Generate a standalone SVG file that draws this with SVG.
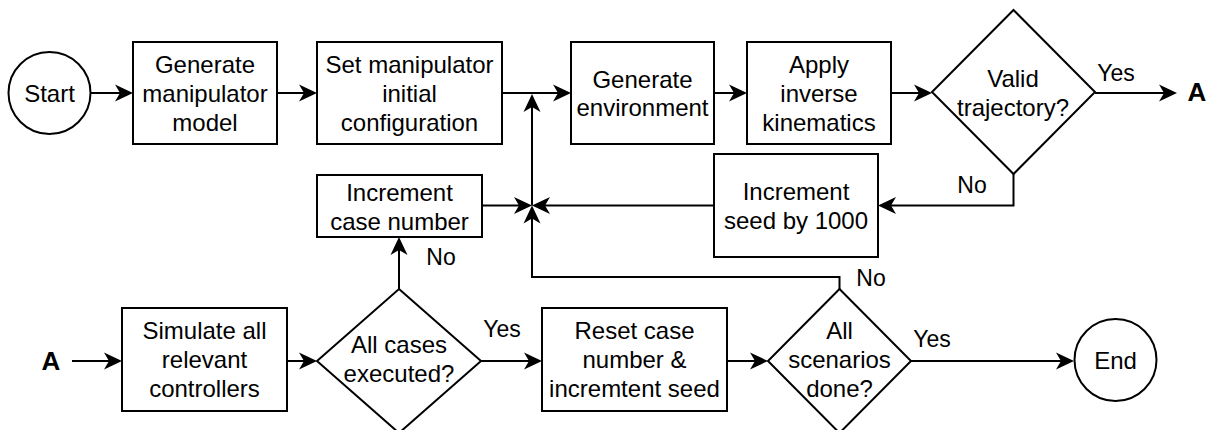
<svg xmlns="http://www.w3.org/2000/svg" width="1211" height="430" viewBox="0 0 1211 430">
<style>
.n{fill:#fff;stroke:#000;stroke-width:2}
.t{font-family:"Liberation Sans",Arial,sans-serif;font-size:24px;fill:#000;text-anchor:middle}
.l{font-family:"Liberation Sans",Arial,sans-serif;font-size:23px;fill:#000;text-anchor:middle}
.b{font-family:"Liberation Sans",Arial,sans-serif;font-size:26px;font-weight:bold;fill:#000;text-anchor:middle}
.c{fill:none;stroke:#000;stroke-width:2;marker-end:url(#arr)}
</style>
<defs>
<marker id="arr" viewBox="-20 -10 22 20" refX="-10" refY="0" markerWidth="22" markerHeight="20" markerUnits="userSpaceOnUse" orient="auto">
<path d="M0,0 L-18,-8.5 L-13,0 L-18,8.5 Z" fill="#000"/>
</marker>
</defs>
<rect width="1211" height="430" fill="#fff"/>
<g id="connectors">
<path class="c" d="M90,93 H123"/>
<path class="c" d="M277,93 H307"/>
<path class="c" d="M502,93 H561"/>
<path class="c" d="M714,93 H737"/>
<path class="c" d="M891,93 H922"/>
<path class="c" d="M1095,93 H1167"/>
<path class="c" d="M1013.5,174 V205.5 H888"/>
<path class="c" d="M714,205.5 H542"/>
<path class="c" d="M482,205.5 H522"/>
<path class="c" d="M839.5,289 V277 H532 V215.5"/>
<path class="c" d="M532,205.5 V104"/>
<path class="c" d="M399,289 V247"/>
<path class="c" d="M72,361 H112"/>
<path class="c" d="M287,361 H307"/>
<path class="c" d="M481,361 H532"/>
<path class="c" d="M727,361 H758"/>
<path class="c" d="M911,361 H1064"/>
<text class="l" x="1116" y="81">Yes</text>
<text class="l" x="972" y="193">No</text>
<text class="l" x="871" y="286">No</text>
<text class="l" x="441" y="265">No</text>
<text class="l" x="502" y="337">Yes</text>
<text class="l" x="932" y="347">Yes</text>
</g>
<g id="start">
<circle class="n" cx="49.5" cy="93" r="41"/>
<text class="t" x="49.5" y="101.5">Start</text>
</g>
<g id="gen-model">
<rect class="n" x="133" y="42" width="144" height="102"/>
<text class="t" x="205" y="73">Generate</text>
<text class="t" x="205" y="102">manipulator</text>
<text class="t" x="205" y="131">model</text>
</g>
<g id="set-config">
<rect class="n" x="317" y="42" width="185" height="102"/>
<text class="t" x="409.5" y="73">Set manipulator</text>
<text class="t" x="409.5" y="102">initial</text>
<text class="t" x="409.5" y="131">configuration</text>
</g>
<g id="gen-env">
<rect class="n" x="571" y="42" width="143" height="102"/>
<text class="t" x="642.5" y="87.5">Generate</text>
<text class="t" x="642.5" y="116">environment</text>
</g>
<g id="ik">
<rect class="n" x="747" y="42" width="144" height="102"/>
<text class="t" x="819" y="73">Apply</text>
<text class="t" x="819" y="102">inverse</text>
<text class="t" x="819" y="131">kinematics</text>
</g>
<g id="valid">
<polygon class="n" points="1013.5,10 1095,92 1013.5,174 932,92"/>
<text class="t" x="1013" y="87">Valid</text>
<text class="t" x="1013" y="116">trajectory?</text>
</g>
<g id="a-out">
<text class="b" x="1197" y="101">A</text>
</g>
<g id="inc-seed">
<rect class="n" x="714" y="154" width="164" height="103"/>
<text class="t" x="796" y="200">Increment</text>
<text class="t" x="796" y="229">seed by 1000</text>
</g>
<g id="inc-case">
<rect class="n" x="317" y="175" width="165" height="62"/>
<text class="t" x="399.5" y="201">Increment</text>
<text class="t" x="399.5" y="230">case number</text>
</g>
<g id="a-in">
<text class="b" x="51" y="370">A</text>
</g>
<g id="simulate">
<rect class="n" x="122" y="308" width="165" height="103"/>
<text class="t" x="204.5" y="339">Simulate all</text>
<text class="t" x="204.5" y="368">relevant</text>
<text class="t" x="204.5" y="397">controllers</text>
</g>
<g id="all-cases">
<polygon class="n" points="399,289 481,361 399,433 317,361"/>
<text class="t" x="399" y="353">All cases</text>
<text class="t" x="399" y="382">executed?</text>
</g>
<g id="reset">
<rect class="n" x="542" y="308" width="185" height="103"/>
<text class="t" x="634.5" y="339">Reset case</text>
<text class="t" x="634.5" y="368">number &amp;</text>
<text class="t" x="634.5" y="397">incremtent seed</text>
</g>
<g id="all-scen">
<polygon class="n" points="839.5,289 911,361 839.5,433 768,361"/>
<text class="t" x="839.5" y="339">All</text>
<text class="t" x="839.5" y="368">scenarios</text>
<text class="t" x="839.5" y="397">done?</text>
</g>
<g id="end">
<circle class="n" cx="1115.5" cy="360" r="41"/>
<text class="t" x="1115.5" y="368.5">End</text>
</g>
</svg>
